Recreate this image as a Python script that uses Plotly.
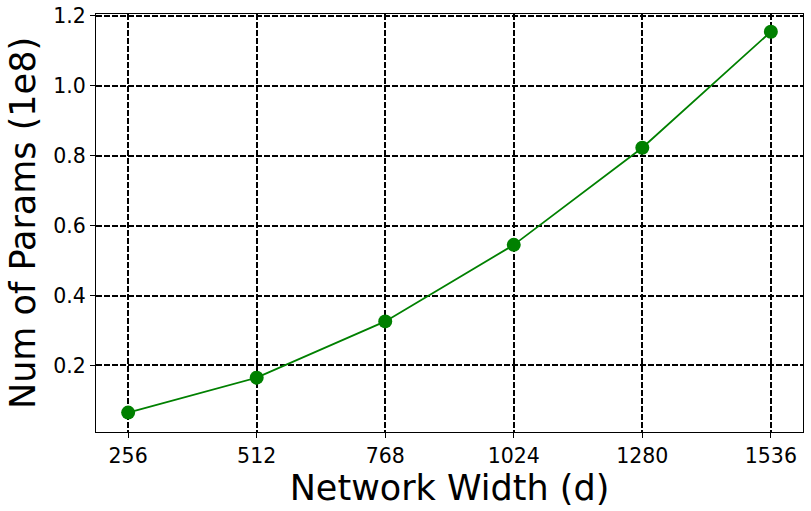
import plotly.graph_objects as go

widths = [256, 512, 768, 1024, 1280, 1536]
params = [0.065, 0.165, 0.326, 0.545, 0.823, 1.155]
xtick_vals = [256, 512, 768, 1024, 1280, 1536]
ytick_vals = [0.2, 0.4, 0.6, 0.8, 1.0, 1.2]

fig = go.Figure()
fig.add_trace(go.Scatter(
    x=widths, y=params, mode="lines+markers",
    line=dict(color="green", width=1.8),
    marker=dict(color="green", size=14),
    showlegend=False,
))

axis_common = dict(
    showline=True, linecolor="black", linewidth=1.3, mirror=True,
    ticks="outside", ticklen=5, tickwidth=1.2, tickcolor="black",
    showgrid=True, gridcolor="black", gridwidth=1.7, griddash="5.5px,2.5px",
    zeroline=False, automargin=False, ticklabeloverflow="allow",
    tickfont=dict(family="DejaVu Sans", size=20.5, color="black"),
)

fig.update_layout(
    width=811, height=511,
    paper_bgcolor="white", plot_bgcolor="white",
    margin=dict(l=96, r=8, t=14, b=79, autoexpand=False),
    font=dict(family="DejaVu Sans", color="black"),
    xaxis=dict(
        range=[192, 1600], tickvals=xtick_vals,
        title=dict(text="Network Width (d)", font=dict(size=35), standoff=3),
        **axis_common,
    ),
    yaxis=dict(
        range=[0.0095, 1.2057], tickvals=ytick_vals,
        ticktext=["0.2", "0.4", "0.6", "0.8", "1.0", "1.2"],
        title=dict(text="Num of Params (1e8)", font=dict(size=35), standoff=6),
        **axis_common,
    ),
)

fig.write_html(
    "out.html",
    config={"displayModeBar": False},
    post_script="document.body.style.margin='0';document.body.style.overflow='hidden';",
)
